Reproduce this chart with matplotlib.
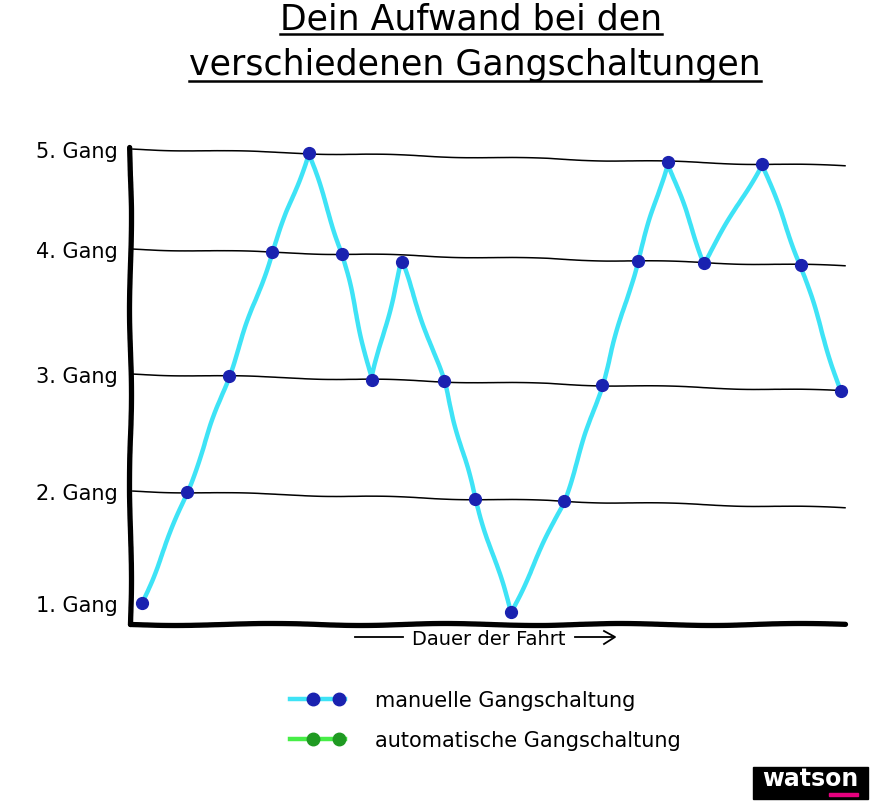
import numpy as np
import matplotlib
matplotlib.use("Agg")
import matplotlib.pyplot as plt
from matplotlib.lines import Line2D
from matplotlib.patches import Rectangle
from matplotlib.transforms import Affine2D
from matplotlib.legend_handler import HandlerLine2D

# ---------------- data ----------------
title_lines = ["Dein Aufwand bei den", "verschiedenen Gangschaltungen"]
gear_levels = [1, 2, 3, 4, 5]
gear_labels = ["1. Gang", "2. Gang", "3. Gang", "4. Gang", "5. Gang"]
time_manual = [1.7, 8.0, 13.8, 19.9, 25.0, 29.7, 33.8, 38.0, 43.9, 48.3,
               53.3, 60.7, 66.0, 71.0, 75.2, 80.3, 88.4, 93.8, 99.4]
gear_manual = [1, 2, 3, 4, 5, 4, 3, 3.95, 3, 2,
               1, 2, 3, 4, 5, 4, 5, 4, 3]
legend_labels = ["manuelle Gangschaltung", "automatische Gangschaltung"]
xlabel_text = "Dauer der Fahrt"

# ---------------- style ----------------
W, H = 873, 803
plt.rcParams["font.family"] = ["DejaVu Sans"]
fig = plt.figure(figsize=(W / 100, H / 100), dpi=100)
fig.patch.set_facecolor("white")

def fx(px):
    return px / W

def fy(py):
    return 1 - py / H

ax = fig.add_axes([fx(130), fy(625), fx(845) - fx(130), (625 - 148) / H])

# hand-drawn (uneven) spacing of the gear lines
g_nodes = np.array([-100, 1, 2, 3, 4, 5, 100], float)
p_nodes = np.array([-101 * 112, 0, 112, 229, 354, 454, 454 + 95 * 100], float)

def fwd(g):
    return np.interp(np.asarray(g, float), g_nodes, p_nodes)

def inv(p):
    return np.interp(np.asarray(p, float), p_nodes, g_nodes)

ax.set_yscale("function", functions=(fwd, inv))
ax.set_xlim(0, 100)
ax.set_ylim(1 - 21 / 112, 5 + 2 / 100)
ax.autoscale(False)

# slight downward drift of the hand-drawn lines
s = 17 / 477
tr = ax.transScale + ax.transLimits + Affine2D().skew(0, np.arctan(-s)) + ax.transAxes

for g in gear_levels[1:]:
    ln, = ax.plot([0.4, 100], [g, g], color="black", lw=1.1, transform=tr, clip_on=False)
    ln.set_sketch_params(0.8, 160, 2)

cyan = "#3ee3f6"
navy = "#1a22b0"
line, = ax.plot(time_manual, gear_manual, color=cyan, lw=3.2, transform=tr,
                clip_on=False, solid_joinstyle="round", solid_capstyle="round", zorder=3)
line.set_sketch_params(1.0, 120, 2)
ax.plot(time_manual, gear_manual, linestyle="none", marker="o", ms=8.5,
        color=navy, transform=tr, clip_on=False, zorder=4)

for sp in ["top", "right"]:
    ax.spines[sp].set_visible(False)
for sp in ["left", "bottom"]:
    ax.spines[sp].set_linewidth(3.8)
    ax.spines[sp].set_capstyle("round")
    ax.spines[sp].set_sketch_params(1.0, 200, 2)

ax.set_xticks([])
ax.set_yticks(gear_levels, gear_labels)
ax.tick_params(axis="y", length=0, pad=9, labelsize=15)

# x label with arrows
fig.text(fx(489), fy(640), xlabel_text, ha="center", va="center", fontsize=14)
fig.add_artist(Line2D([fx(355), fx(403)], [fy(638), fy(638)], color="black", lw=1.3))
fig.add_artist(Line2D([fx(575), fx(612)], [fy(638), fy(638)], color="black", lw=1.3))
fig.add_artist(Line2D([fx(604), fx(615), fx(604)], [fy(632), fy(638), fy(645)],
                      color="black", lw=1.3))

# title with underlines
renderer = fig.canvas.get_renderer()
for txt, (cx, by, uy) in zip(title_lines, [(471, 29, 35), (475, 75, 82)]):
    t = fig.text(fx(cx), fy(by), txt, ha="center", va="baseline", fontsize=25)
    bb = t.get_window_extent(renderer)
    fig.add_artist(Line2D([bb.x0 / W, bb.x1 / W], [fy(uy), fy(uy)], color="black", lw=1.8))

# legend
class MarkerPosHandler(HandlerLine2D):
    def create_artists(self, legend, orig_handle, xdescent, ydescent,
                       width, height, fontsize, trans):
        xdata = -xdescent + width * np.array([0.0, 0.42, 0.88, 1.0])
        ydata = np.full_like(xdata, (height - ydescent) / 2)
        legline = Line2D(xdata, ydata)
        self.update_prop(legline, orig_handle, legend)
        legline.set_markevery([1, 2])
        legline.set_transform(trans)
        return [legline]

handles = [
    Line2D([], [], color=cyan, lw=3.2, marker="o", ms=9, mfc=navy, mec=navy),
    Line2D([], [], color="#47ee47", lw=3.2, marker="o", ms=9, mfc="#1f9a22", mec="#1f9a22"),
]
fig.legend(handles, legend_labels, loc="upper left", bbox_to_anchor=(fx(290), fy(691)),
           frameon=False, fontsize=15, numpoints=2, handlelength=2.65,
           handletextpad=1.45, labelspacing=0.95, borderpad=0, borderaxespad=0,
           handler_map={Line2D: MarkerPosHandler()})

# watson logo
fig.add_artist(Rectangle((fx(753), fy(800)), (868 - 753) / W, (800 - 768) / H,
                         transform=fig.transFigure, color="black"))
fig.text(fx(810), fy(786), "watson", ha="center", va="baseline", color="white",
         fontsize=17, fontweight="bold")
fig.add_artist(Rectangle((fx(829), fy(797)), (858 - 829) / W, 3 / H,
                         transform=fig.transFigure, color="#e6007e"))

fig.savefig("out.png", dpi=100, facecolor="white")
